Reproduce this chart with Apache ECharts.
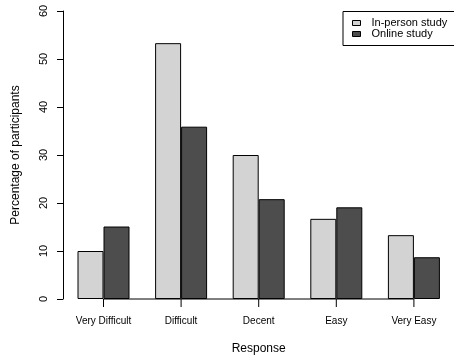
<!DOCTYPE html>
<html>
<head>
<meta charset="utf-8">
<script src="https://cdn.jsdelivr.net/npm/echarts@6/dist/echarts.min.js"></script>
<style>
html,body{margin:0;padding:0;background:#fff;}
#chart{width:454px;height:361px;}
</style>
</head>
<body>
<div id="chart"></div>
<script>
var categories = ['Very Difficult', 'Difficult', 'Decent', 'Easy', 'Very Easy'];
var inPerson = [10, 53.3, 30, 16.7, 13.3];
var online = [15.1, 35.9, 20.8, 19.1, 8.7];
var baseline = [0, 0, 0, 0, 0];
var yTicks = [0, 10, 20, 30, 40, 50, 60];
var seriesNames = ['In-person study', 'Online study'];

var FONT = '"Liberation Sans", Arial, Helvetica, sans-serif';
var chart = echarts.init(document.getElementById('chart'), null, {renderer: 'canvas'});
chart.setOption({
  animation: false,
  backgroundColor: '#fff',
  grid: {left: 64.7, top: 11, width: 388, height: 288, containLabel: false},
  legend: {
    data: seriesNames,
    orient: 'vertical',
    left: 343,
    top: 11.5,
    padding: [6, 20, 6, 9],
    itemGap: 0,
    itemWidth: 8,
    itemHeight: 5,
    borderColor: '#000',
    borderWidth: 1,
    icon: 'rect',
    itemStyle: {borderColor: '#000', borderWidth: 1},
    textStyle: {fontFamily: FONT, fontSize: 11, color: '#000', lineHeight: 10, padding: [0, 0, 0, 6]}
  },
  xAxis: {
    type: 'category',
    data: categories,
    name: 'Response',
    nameLocation: 'middle',
    nameGap: 44,
    nameTextStyle: {fontFamily: FONT, fontSize: 12, color: '#000'},
    axisLine: {show: false},
    axisTick: {show: false},
    axisLabel: {fontFamily: FONT, fontSize: 10, color: '#000', margin: 17, interval: 0},
    splitLine: {show: false}
  },
  yAxis: {
    type: 'value',
    min: yTicks[0],
    max: yTicks[yTicks.length - 1],
    interval: 10,
    offset: 1.7,
    name: 'Percentage of participants',
    nameLocation: 'middle',
    nameRotate: 90,
    nameGap: 41,
    nameTextStyle: {fontFamily: FONT, fontSize: 12, color: '#000'},
    axisLine: {show: true, lineStyle: {color: '#000', width: 1}},
    axisTick: {show: true, length: 6, lineStyle: {color: '#000', width: 1}},
    axisLabel: {fontFamily: FONT, fontSize: 11, color: '#000', rotate: 90, margin: 14},
    splitLine: {show: false}
  },
  series: [
    {
      name: seriesNames[0],
      type: 'bar',
      data: inPerson,
      barWidth: 26,
      barGap: '0%',
      itemStyle: {color: '#d3d3d3', borderColor: '#000', borderWidth: 1}
    },
    {
      name: seriesNames[1],
      type: 'bar',
      data: online,
      barWidth: 26,
      barGap: '0%',
      itemStyle: {color: '#4d4d4d', borderColor: '#000', borderWidth: 1}
    },
    {
      name: 'axisline',
      type: 'line',
      data: baseline,
      symbol: 'none',
      silent: true,
      clip: false,
      z: 10,
      lineStyle: {color: '#000', width: 1, opacity: 1},
      tooltip: {show: false}
    },
    {
      name: 'ticks',
      type: 'scatter',
      data: baseline,
      symbol: 'rect',
      symbolSize: [1, 8],
      symbolOffset: [0, 4],
      silent: true,
      clip: false,
      z: 10,
      itemStyle: {color: '#000', opacity: 1},
      tooltip: {show: false}
    }
  ]
});
</script>
</body>
</html>
